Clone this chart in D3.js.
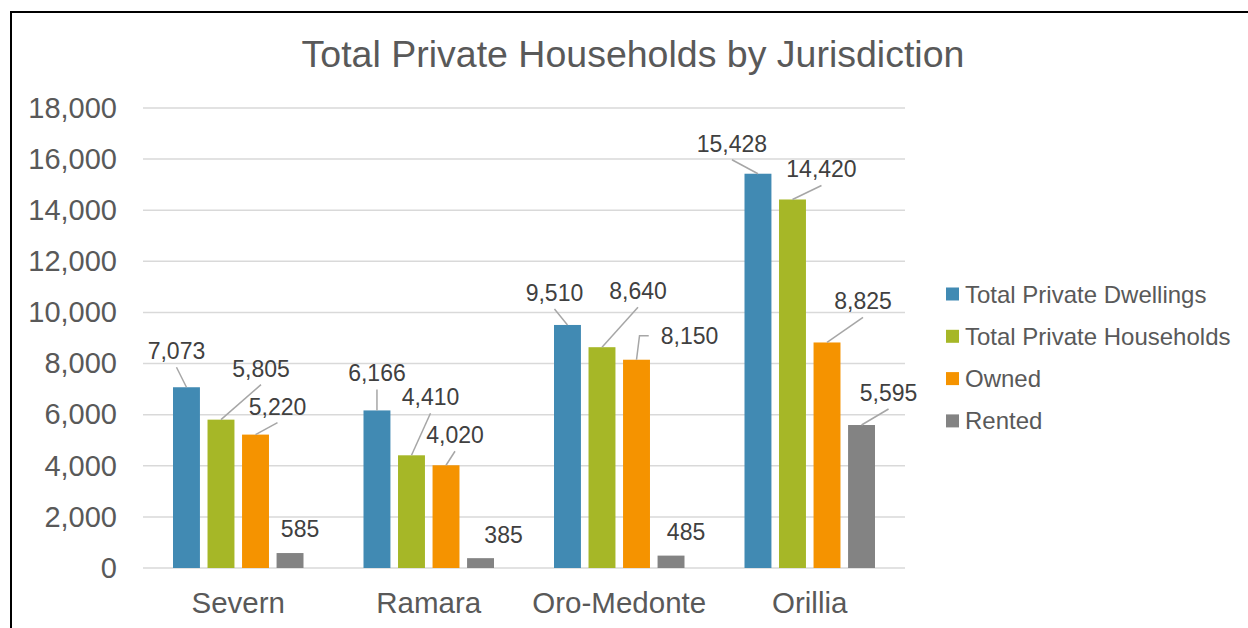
<!DOCTYPE html>
<html>
<head>
<meta charset="utf-8">
<script src="https://cdn.jsdelivr.net/npm/d3@7"></script>
<style>
  html, body { margin: 0; padding: 0; background: #ffffff; }
  svg { display: block; font-family: "Liberation Sans", Arial, sans-serif; }
</style>
</head>
<body>
<svg id="chart" width="1248" height="628"></svg>
<script>
// Households by jurisdiction
const categories = ["Severn", "Ramara", "Oro-Medonte", "Orillia"];
const seriesNames = ["Total Private Dwellings", "Total Private Households", "Owned", "Rented"];
const dwellings  = [7073, 6166, 9510, 15428];
const households = [5805, 4410, 8640, 14420];
const owned      = [5220, 4020, 8150, 8825];
const rented     = [585, 385, 485, 5595];
const yTicks = [0, 2000, 4000, 6000, 8000, 10000, 12000, 14000, 16000, 18000];

const seriesValues = [dwellings, households, owned, rented];
const colors = ["#418AB3", "#A6B727", "#F59300", "#838383"];

// Label placement relative to the top centre of each bar: [dx, dy, leader]
// leader: 0 = none, 1 = straight line to the bar, 2 = elbow from the label's left side
const labelPlacement = [
  [[-10, -36, 1], [40, -51, 1], [22, -28, 1], [10, -24, 0]],
  [[0, -37, 1], [19, -58, 1], [9, -30, 1], [23, -23, 0]],
  [[-13, -32, 1], [36, -56, 1], [53, -24, 2], [15, -24, 0]],
  [[-26, -30, 1], [29, -30, 1], [36, -41, 1], [27, -32, 1]]
];

const svg = d3.select("#chart");

// Outer frame
svg.append("rect")
  .attr("x", 11).attr("y", 12)
  .attr("width", 1400).attr("height", 800)
  .attr("fill", "#ffffff")
  .attr("stroke", "#000000").attr("stroke-width", 2);

// Title
svg.append("text")
  .attr("x", 633).attr("y", 67)
  .attr("text-anchor", "middle")
  .attr("font-size", 37.5)
  .attr("fill", "#595959")
  .text("Total Private Households by Jurisdiction");

const plot = { left: 143, right: 905, top: 108, bottom: 568 };

const y = d3.scaleLinear().domain([0, 18000]).range([plot.bottom, plot.top]);
const x0 = d3.scaleBand().domain(categories).range([plot.left, plot.right]).padding(0);
const x1 = d3.scaleBand().domain(seriesNames).range([30, x0.bandwidth() - 30]).paddingInner(0.22).paddingOuter(0);

// Gridlines
svg.append("g")
  .selectAll("line")
  .data(yTicks)
  .join("line")
  .attr("x1", plot.left).attr("x2", plot.right)
  .attr("y1", d => y(d)).attr("y2", d => y(d))
  .attr("stroke", "#D9D9D9").attr("stroke-width", 1.5);

// Y axis labels
const yAxis = d3.axisLeft(y).tickValues(yTicks).tickFormat(d3.format(",")).tickSize(0).tickPadding(0);
const yg = svg.append("g").attr("transform", `translate(${plot.left - 26},0)`).call(yAxis);
yg.select(".domain").remove();
yg.selectAll("text")
  .attr("font-size", 29)
  .attr("fill", "#595959")
  .attr("font-family", "Liberation Sans, Arial, sans-serif");

// X axis labels
const xAxis = d3.axisBottom(x0).tickSize(0).tickPadding(0);
const xg = svg.append("g").attr("transform", `translate(0,${plot.bottom + 24})`).call(xAxis);
xg.select(".domain").remove();
xg.selectAll("text")
  .attr("font-size", 29.5)
  .attr("fill", "#595959")
  .attr("dy", "0.71em")
  .attr("font-family", "Liberation Sans, Arial, sans-serif");

// Bars
const barData = [];
categories.forEach((c, ci) => {
  seriesNames.forEach((s, si) => {
    barData.push({ cat: c, ser: s, ci, si, value: seriesValues[si][ci] });
  });
});

svg.append("g")
  .selectAll("rect")
  .data(barData)
  .join("rect")
  .attr("x", d => x0(d.cat) + x1(d.ser))
  .attr("y", d => y(d.value))
  .attr("width", x1.bandwidth())
  .attr("height", d => y(0) - y(d.value))
  .attr("fill", d => colors[d.si]);

// Data labels with leader lines
const fmt = d3.format(",");
const labelG = svg.append("g");
barData.forEach(d => {
  const cx = x0(d.cat) + x1(d.ser) + x1.bandwidth() / 2;
  const top = y(d.value);
  const [dx, dy, leader] = labelPlacement[d.ci][d.si];
  const lx = cx + dx, ly = top + dy;
  const txt = labelG.append("text")
    .attr("x", lx).attr("y", ly)
    .attr("text-anchor", "middle")
    .attr("dominant-baseline", "central")
    .attr("font-size", 23)
    .attr("fill", "#404040")
    .text(fmt(d.value));
  if (leader === 1) {
    labelG.append("line")
      .attr("x1", lx).attr("y1", ly + 16)
      .attr("x2", cx).attr("y2", top)
      .attr("stroke", "#A6A6A6").attr("stroke-width", 1.5);
  } else if (leader === 2) {
    const w = txt.node().getComputedTextLength();
    const left = lx - w / 2;
    labelG.append("path")
      .attr("d", `M${left - 12},${ly} H${cx + 3} L${cx},${top}`)
      .attr("fill", "none")
      .attr("stroke", "#A6A6A6").attr("stroke-width", 1.5);
  }
});

// Legend
const legend = svg.append("g").attr("transform", "translate(946,294)");
const rows = legend.selectAll("g")
  .data(seriesNames)
  .join("g")
  .attr("transform", (d, i) => `translate(0,${i * 42.3})`);
rows.append("rect")
  .attr("x", 0).attr("y", -6.5)
  .attr("width", 13).attr("height", 13)
  .attr("fill", (d, i) => colors[i]);
rows.append("text")
  .attr("x", 19).attr("y", 0)
  .attr("dominant-baseline", "central")
  .attr("font-size", 24)
  .attr("fill", "#595959")
  .text(d => d);
</script>
</body>
</html>
